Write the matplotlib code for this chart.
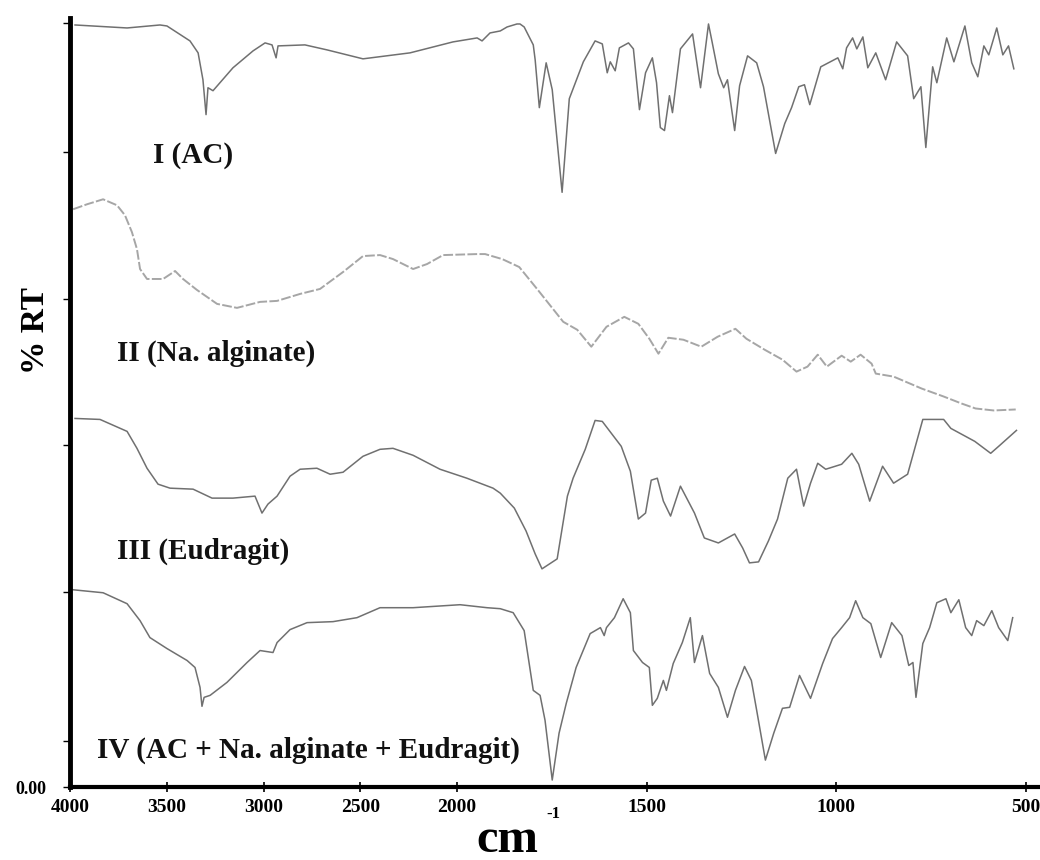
import numpy as np
import matplotlib
matplotlib.use("Agg")
import matplotlib.pyplot as plt

plt.rcParams['font.family'] = ['Liberation Serif', 'DejaVu Serif']
plt.rcParams['font.weight'] = 'bold'

# FTIR traces, wavenumber (cm-1) vs. transmittance (arbitrary units, stacked)
wn_ac = [3974, 3705, 3535, 3499, 3380, 3338, 3313, 3297, 3287, 3261, 3158, 3054, 2992, 2956, 2935, 2925,
         2786, 2672, 2486, 2243, 2021, 1947, 1934, 1913, 1886, 1868, 1842, 1834, 1823, 1799, 1794, 1783,
         1765, 1749, 1723, 1704, 1667, 1636, 1617, 1604, 1596, 1583, 1572, 1548, 1535, 1519, 1503, 1485,
         1474, 1464, 1453, 1440, 1432, 1411, 1379, 1358, 1337, 1327, 1311, 1297, 1287, 1268, 1255, 1234,
         1210, 1192, 1160, 1136, 1118, 1099, 1084, 1070, 1041, 996, 983, 973, 957, 946, 930, 917, 896,
         870, 841, 812, 796, 777, 764, 746, 735, 709, 690, 661, 643, 627, 611, 598, 577, 561, 546, 532]
rt_ac = [765, 762, 765, 764, 749, 737, 710, 675, 702, 699, 722, 739, 747, 745, 732, 744,
         745, 740, 731, 737, 748, 752, 749, 757, 759, 763, 766, 766, 763, 745, 730, 682,
         727, 700, 597, 691, 728, 749, 746, 717, 728, 719, 742, 747, 741, 680, 717, 732,
         707, 662, 659, 694, 677, 741, 756, 702, 766, 747, 716, 702, 710, 659, 704, 734,
         727, 703, 636, 666, 682, 703, 705, 685, 723, 732, 721, 742, 752, 741, 753, 722, 737,
         710, 748, 734, 691, 703, 642, 723, 707, 752, 728, 764, 727, 713, 744, 735, 762, 735, 744, 721]

wn_alg = [3984, 3912, 3829, 3757, 3716, 3680, 3654, 3638, 3602, 3519, 3457, 3416, 3344, 3240, 3137, 3018,
          2930, 2811, 2708, 2589, 2486, 2398, 2331, 2227, 2155, 2072, 1947, 1926, 1881, 1836, 1789, 1720,
          1683, 1646, 1606, 1559, 1522, 1493, 1469, 1443, 1403, 1356, 1313, 1266, 1237, 1189, 1142, 1105,
          1076, 1049, 1025, 986, 962, 936, 907, 896, 849, 775, 717, 670, 633, 585, 527]
rt_alg = [580, 585, 590, 584, 574, 557, 540, 520, 510, 510, 518, 510, 499, 485, 481, 487,
          488, 495, 500, 517, 533, 534, 530, 520, 525, 534, 535, 535, 530, 522, 500, 467,
          459, 442, 462, 472, 465, 450, 435, 451, 449, 442, 452, 460, 450, 439, 429, 417,
          422, 434, 422, 433, 427, 434, 425, 415, 412, 400, 392, 385, 380, 378, 379]

wn_eud = [3974, 3845, 3705, 3654, 3602, 3545, 3483, 3364, 3266, 3158, 3044, 3008, 2977, 2930, 2863, 2811,
          2724, 2656, 2589, 2486, 2398, 2331, 2227, 2088, 1974, 1905, 1886, 1849, 1818, 1794, 1776, 1736,
          1709, 1694, 1662, 1636, 1617, 1567, 1543, 1522, 1503, 1488, 1472, 1456, 1437, 1411, 1374, 1348,
          1311, 1268, 1247, 1229, 1205, 1179, 1155, 1128, 1105, 1086, 1068, 1049, 1028, 986, 959, 941,
          912, 878, 849, 812, 772, 717, 698, 635, 593, 572, 525]
rt_eud = [370, 369, 357, 340, 320, 304, 300, 299, 290, 290, 292, 275, 284, 292, 312, 319,
          320, 314, 316, 332, 339, 340, 333, 319, 310, 300, 295, 280, 257, 234, 219, 229,
          292, 310, 339, 368, 367, 342, 317, 269, 275, 308, 310, 287, 272, 302, 275, 250,
          245, 254, 240, 225, 226, 247, 269, 310, 319, 282, 305, 325, 319, 324, 335, 324,
          287, 322, 305, 314, 369, 369, 360, 347, 335, 342, 358]

wn_mix = [3984, 3829, 3705, 3638, 3587, 3499, 3395, 3354, 3328, 3318, 3307, 3276, 3189, 3085, 3018, 2951,
          2930, 2863, 2775, 2641, 2517, 2398, 2227, 1992, 1921, 1886, 1852, 1823, 1799, 1781, 1768, 1749,
          1731, 1712, 1686, 1649, 1622, 1612, 1606, 1585, 1562, 1543, 1535, 1511, 1493, 1485, 1472, 1456,
          1448, 1430, 1406, 1385, 1374, 1353, 1334, 1311, 1287, 1266, 1242, 1224, 1210, 1187, 1165, 1142,
          1123, 1097, 1068, 1036, 1010, 986, 965, 949, 930, 909, 883, 854, 827, 809, 798, 790, 772, 754,
          735, 711, 698, 677, 659, 643, 630, 611, 590, 572, 548, 535]
rt_mix = [198, 195, 184, 167, 150, 139, 127, 120, 100, 81, 90, 92, 105, 125, 137, 135,
          145, 158, 165, 166, 170, 180, 180, 183, 180, 179, 175, 157, 97, 92, 67, 7,
          54, 84, 120, 154, 160, 152, 160, 170, 189, 175, 137, 125, 120, 82, 89, 107,
          97, 124, 145, 170, 125, 152, 114, 100, 70, 97, 121, 107, 77, 27, 54, 79,
          80, 112, 89, 124, 149, 160, 170, 187, 170, 164, 130, 165, 152, 122, 125, 90, 144, 160,
          185, 189, 175, 188, 160, 152, 167, 162, 177, 160, 147, 170]

labels = ['I (AC)', 'II (Na. alginate)', 'III (Eudragit)', 'IV (AC + Na. alginate + Eudragit)']
label_xy = [(3570, 634), (3757, 435), (3757, 237), (3861, 37)]

x_ticks = [4000, 3500, 3000, 2500, 2000, 1500, 1000, 500]
y_ticks = [0, 46, 196, 343, 490, 637, 767]


# spectrometer-style axis: region below 2000 cm-1 is expanded ~2x
def fwd(x):
    x = np.asarray(x, dtype=float)
    return np.where(x >= 2000, x, 2000 - 1.96 * (2000 - x))


def inv(f):
    f = np.asarray(f, dtype=float)
    return np.where(f >= 2000, f, 2000 - (2000 - f) / 1.96)


fig = plt.figure(figsize=(10.4, 8.6), dpi=100)
ax = fig.add_axes([70 / 1040, 73 / 860, 970 / 1040, 769 / 860])
ax.set_xscale('function', functions=(fwd, inv))

dark = '#707070'
ax.plot(wn_ac, rt_ac, color=dark, lw=1.1)
ax.plot(wn_alg, rt_alg, color='#a6a6a6', lw=1.4, dashes=(5, 1.2))
ax.plot(wn_eud, rt_eud, color=dark, lw=1.1)
ax.plot(wn_mix, rt_mix, color=dark, lw=1.1)

for lab, (lx, ly) in zip(labels, label_xy):
    ax.text(lx, ly, lab, fontsize=21, fontweight='bold', ha='left', va='center', color='#111111')

ax.set_xlim(4000, 463)
ax.set_ylim(0, 772)

ax.set_xticks(x_ticks)
ax.set_xticklabels([str(t) for t in x_ticks])
ax.xaxis.set_minor_locator(matplotlib.ticker.NullLocator())
ax.set_yticks(y_ticks)
ax.set_yticklabels(['0.00'] + [''] * (len(y_ticks) - 1))

for side in ['top', 'right']:
    ax.spines[side].set_visible(False)
ax.spines['left'].set_linewidth(3.5)
ax.spines['bottom'].set_linewidth(3)

ax.tick_params(axis='x', direction='inout', length=7, width=1.2, labelsize=14, pad=5)
ax.tick_params(axis='y', direction='out', length=5, width=1, labelsize=13, pad=12)
for t in ax.get_xticklabels() + ax.get_yticklabels():
    t.set_fontweight('bold')

fig.text(35 / 1040, 1 - 330 / 860, '% RT', fontsize=24, fontweight='bold', rotation=90,
         ha='center', va='center')
fig.text(476 / 1040, 1 - 852 / 860, 'cm', fontsize=35, fontweight='bold', ha='left', va='baseline')
fig.text(546 / 1040, 1 - 814 / 860, '-1', fontsize=12, fontweight='bold', ha='left', va='center')

fig.savefig('out.png', dpi=100)
